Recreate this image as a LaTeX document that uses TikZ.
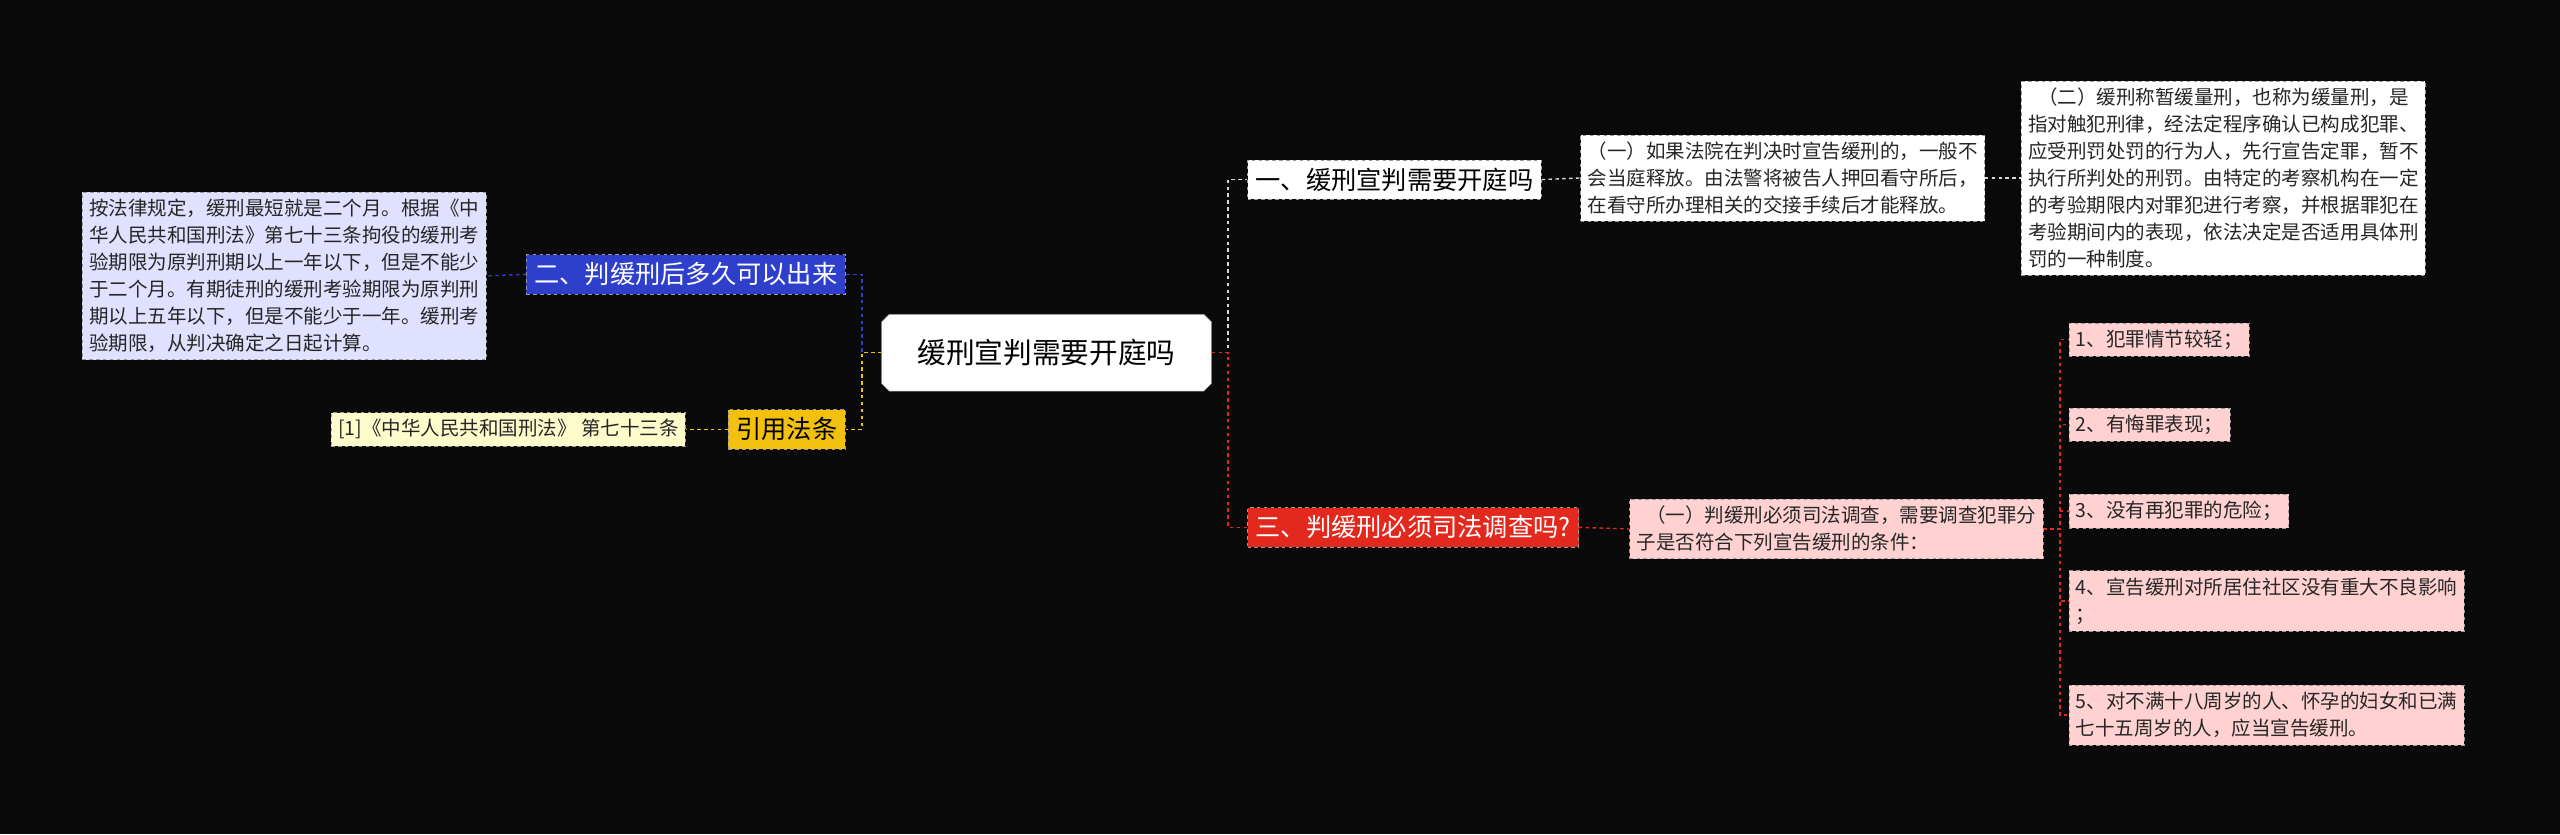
\documentclass[tikz,border=0pt]{standalone}
\usepackage{fontspec}
\setmainfont{Noto Sans CJK SC}
\usetikzlibrary{shapes.misc}
\definecolor{bblue}{HTML}{2E3FCC}
\definecolor{bred}{HTML}{E3281D}
\definecolor{byel}{HTML}{F2C10F}
\begin{document}
\begin{tikzpicture}[x=0.05cm,y=-0.05cm,
 sm/.style={font=\fontsize{17}{23.5}\selectfont,align=left,inner sep=6pt,dashed,draw=black!40,anchor=west,text=black!85},
 br/.style={font=\fontsize{22}{28}\selectfont,inner sep=7pt,dashed,draw=black!40,anchor=west},
 cw/.style={dashed,line width=1.2pt,draw=white!85!black},
 cr/.style={dashed,line width=1.2pt,draw=bred},
 cb/.style={dashed,line width=1.2pt,draw=bblue},
 cy/.style={dashed,line width=1.2pt,draw=byel}]
\fill[black!96] (0,0) rectangle (1568,511);
\useasboundingbox (0,0) rectangle (1568,511);
\node[chamfered rectangle,chamfered rectangle xsep=3pt,fill=white,draw=black!40,font=\fontsize{25}{30}\selectfont,minimum width=202*1.4226pt,minimum height=47*1.4226pt,inner sep=4pt] (c) at (641,216) {缓刑宣判需要开庭吗};
\node[br,fill=white] (b1) at (764,110) {一、缓刑宣判需要开庭吗};
\node[sm,fill=white] (l1) at (968,109) {（一）如果法院在判决时宣告缓刑的，一般不\\会当庭释放。由法警将被告人押回看守所后，\\在看守所办理相关的交接手续后才能释放。};
\node[sm,fill=white] (l2) at (1238,109) {\hspace{0.5em}（二）缓刑称暂缓量刑，也称为缓量刑，是\\指对触犯刑律，经法定程序确认已构成犯罪、\\应受刑罚处罚的行为人，先行宣告定罪，暂不\\执行所判处的刑罚。由特定的考察机构在一定\\的考验期限内对罪犯进行考察，并根据罪犯在\\考验期间内的表现，依法决定是否适用具体刑\\罚的一种制度。};
\node[br,fill=bblue,text=white,anchor=east] (b2) at (518,168) {二、判缓刑后多久可以出来};
\node[sm,fill=blue!12,anchor=east] (l3) at (298,169) {按法律规定，缓刑最短就是二个月。根据《中\\华人民共和国刑法》第七十三条拘役的缓刑考\\验期限为原判刑期以上一年以下，但是不能少\\于二个月。有期徒刑的缓刑考验期限为原判刑\\期以上五年以下，但是不能少于一年。缓刑考\\验期限，从判决确定之日起计算。};
\node[br,fill=byel,anchor=east] (b3) at (518,263) {引用法条};
\node[sm,fill=yellow!20,anchor=east] (l4) at (420,263) {[1]《中华人民共和国刑法》 第七十三条};
\node[br,fill=bred,text=white] (b4) at (764,323) {三、判缓刑必须司法调查吗?};
\node[sm,fill=red!18] (l5) at (998,324) {\hspace{0.5em}（一）判缓刑必须司法调查，需要调查犯罪分\\子是否符合下列宣告缓刑的条件：};
\node[sm,fill=red!18] (k1) at (1267,208) {1、犯罪情节较轻；};
\node[sm,fill=red!18] (k2) at (1267,260) {2、有悔罪表现；};
\node[sm,fill=red!18] (k3) at (1267,313) {3、没有再犯罪的危险；};
\node[sm,fill=red!18] (k4) at (1267,368) {4、宣告缓刑对所居住社区没有重大不良影响\\；};
\node[sm,fill=red!18] (k5) at (1267,438) {5、对不满十八周岁的人、怀孕的妇女和已满\\七十五周岁的人，应当宣告缓刑。};
\draw[cw] (c.east) -- ++(10,0) |- (b1.west);
\draw[cr] (c.east) -- ++(10,0) |- (b4.west);
\draw[cb] (c.west) -- ++(-12,0) |- (b2.east);
\draw[cy] (c.west) -- ++(-12,0) |- (b3.east);
\draw[cw] (b1.east) -- (l1.west);
\draw[cw] (l1.east) -- (l2.west);
\draw[cb] (b2.west) -- (l3.east);
\draw[cy] (b3.west) -- (l4.east);
\draw[cr] (b4.east) -- (l5.west);
\foreach \k in {k1,k2,k3,k4,k5} \draw[cr] (l5.east) -- ++(10,0) |- (\k.west);
\end{tikzpicture}
\end{document}
